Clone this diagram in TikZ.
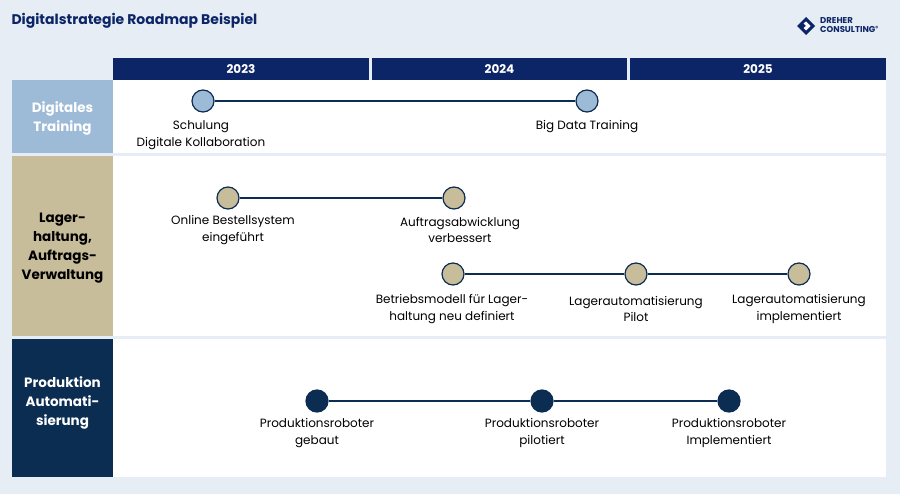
\documentclass[tikz,border=0pt]{standalone}
\usepackage{fontspec}
\setmainfont{Poppins}
\definecolor{bg}{HTML}{E7EDF5}
\definecolor{navy}{HTML}{0B2566}
\definecolor{dnavy}{HTML}{0C2D52}
\definecolor{lblue}{HTML}{9DBBD6}
\definecolor{tan}{HTML}{C8BD9A}
\definecolor{sep}{HTML}{E7EDF5}
\tikzset{
 ms/.style={circle,draw=dnavy,line width=1.2pt,minimum size=22pt,inner sep=0pt},
 lbl/.style={font=\fontsize{12}{16.5}\selectfont,align=center,text=black},
 yr/.style={font=\bfseries\fontsize{12}{14}\selectfont,text=white},
 rowl/.style={font=\bfseries\fontsize{13.5}{19}\selectfont,text=white,align=center},
 ln/.style={dnavy,line width=1.2pt}
}
\begin{document}
\begin{tikzpicture}[x=1pt,y=-1pt]
\fill[bg] (0,0) rectangle (900,494);
\useasboundingbox (0,0) rectangle (900,494);
\node[anchor=west,font=\bfseries\fontsize{14}{16}\selectfont,text=navy] (title) at (8,21) {Digitalstrategie Roadmap Beispiel};
% logo
\fill[navy] (806,17) -- (815,26) -- (806,35) -- (797,26) -- cycle;
\fill[white] (806,21.5) -- (810.5,26) -- (806,30.5) -- (803.5,28) -- (806,26) -- (803.5,23.5) -- cycle;
\node[anchor=west,font=\bfseries\fontsize{8.5}{9}\selectfont,text=navy,align=left,inner sep=0pt] (logo) at (820,25.5) {DREHER\\CONSULTING\textsuperscript{®}};
% white area
\fill[white] (113,80) rectangle (886,477);
\fill[sep] (113,153) rectangle (886,156);
\fill[sep] (113,336) rectangle (886,339);
% header
\fill[navy] (113,58) rectangle (369,80); \node[yr] (y1) at (241,69) {2023};
\fill[navy] (372,58) rectangle (627,80); \node[yr] (y2) at (499.5,69) {2024};
\fill[navy] (630,58) rectangle (886,80); \node[yr] (y3) at (758,69) {2025};
% row labels
\fill[lblue] (12,80) rectangle (113,153); \node[rowl] (r1) at (62.5,118) {Digitales\\Training};
\fill[tan] (12,156) rectangle (113,336); \node[rowl,text=black] (r2) at (62.5,248) {Lager-\\haltung,\\Auftrags-\\Verwaltung};
\fill[dnavy] (12,339) rectangle (113,477); \node[rowl] (r3) at (62.5,403) {Produktion\\Automati-\\sierung};
% row1
\node[ms,fill=lblue] (a1) at (203,101) {};
\node[ms,fill=lblue] (a2) at (587,101) {};
\draw[ln] (a1) -- (a2);
\node[lbl] at (201,135) {Schulung\\Digitale Kollaboration};
\node[lbl] at (587,127) {Big Data Training};
% row2
\node[ms,fill=tan] (b1) at (228,198) {};
\node[ms,fill=tan] (b2) at (454,198) {};
\draw[ln] (b1) -- (b2);
\node[lbl] at (233,230) {Online Bestellsystem\\eingeführt};
\node[lbl] at (460,230) {Auftragsabwicklung\\verbessert};
\node[ms,fill=tan] (c1) at (453,274) {};
\node[ms,fill=tan] (c2) at (636,274) {};
\node[ms,fill=tan] (c3) at (799,274) {};
\draw[ln] (c1) -- (c2) -- (c3);
\node[lbl] at (452,309) {Betriebsmodell für Lager-\\haltung neu definiert};
\node[lbl] at (636,309) {Lagerautomatisierung\\Pilot};
\node[lbl] at (799,309) {Lagerautomatisierung\\implementiert};
% row3
\node[ms,fill=dnavy] (d1) at (317,401) {};
\node[ms,fill=dnavy] (d2) at (542,401) {};
\node[ms,fill=dnavy] (d3) at (729,401) {};
\draw[ln] (d1) -- (d2) -- (d3);
\node[lbl] at (317,433) {Produktionsroboter\\gebaut};
\node[lbl] at (542,433) {Produktionsroboter\\pilotiert};
\node[lbl] at (729,433) {Produktionsroboter\\Implementiert};
\end{tikzpicture}
\end{document}
